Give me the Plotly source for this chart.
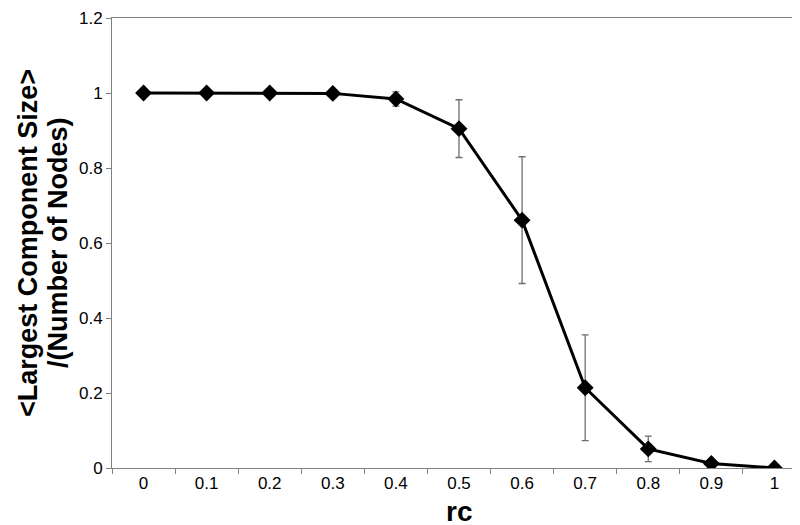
import plotly.graph_objects as go

# rc values (categories) and mean normalised largest component size
rc = ["0", "0.1", "0.2", "0.3", "0.4", "0.5", "0.6", "0.7", "0.8", "0.9", "1"]
lcs = [1.0, 1.0, 1.0, 0.999, 0.984, 0.905, 0.661, 0.214, 0.051, 0.012, 0.0]
err = [0.0, 0.0, 0.0, 0.0, 0.019, 0.077, 0.169, 0.141, 0.034, 0.0, 0.0]
yticks = [0, 0.2, 0.4, 0.6, 0.8, 1, 1.2]
ylabels = ["0", "0.2", "0.4", "0.6", "0.8", "1", "1.2"]
ytitle = ["&lt;Largest Component Size&gt;", "/(Number of Nodes)"]

font = "Liberation Sans, Arial, sans-serif"

fig = go.Figure()
fig.add_trace(go.Scatter(
    x=rc, y=lcs, mode="lines+markers",
    line=dict(color="black", width=3),
    marker=dict(symbol="diamond", size=13, color="black"),
    error_y=dict(type="data", array=err, visible=True,
                 color="#6e6e6e", thickness=1.3, width=3.5),
    showlegend=False,
))

fig.update_xaxes(
    type="category", range=[-0.5, 10.5],
    tickson="boundaries", ticks="outside", ticklen=5, tickcolor="#808080",
    showline=True, linecolor="#808080", linewidth=1, mirror=True,
    showgrid=False, zeroline=False,
    tickfont=dict(family=font, size=17, color="black"),
)
fig.update_yaxes(
    range=[0, 1.2], tickvals=yticks, ticktext=ylabels,
    ticks="outside", ticklen=5, tickcolor="#808080",
    showline=True, linecolor="#808080", linewidth=1, mirror=True,
    showgrid=False, zeroline=False,
    tickfont=dict(family=font, size=17, color="black"),
)

# axis titles as annotations (tight line spacing like the original)
fig.add_annotation(text="<b>rc</b>", xref="paper", yref="paper", x=0.5, y=0,
                   yanchor="middle", yshift=-43, height=24, showarrow=False,
                   font=dict(family=font, size=28, color="black"))
for line, shift in zip(ytitle, [-84, -54]):
    fig.add_annotation(text="<b>" + line + "</b>", xref="paper", yref="paper",
                       x=0, y=0.5, xanchor="center", yanchor="middle",
                       xshift=shift, textangle=-90, showarrow=False,
                       font=dict(family=font, size=27, color="black"))

fig.update_layout(
    width=800, height=525,
    margin=dict(l=104, r=2, t=10, b=65),
    plot_bgcolor="white", paper_bgcolor="white",
)

fig.write_html("out.html")
